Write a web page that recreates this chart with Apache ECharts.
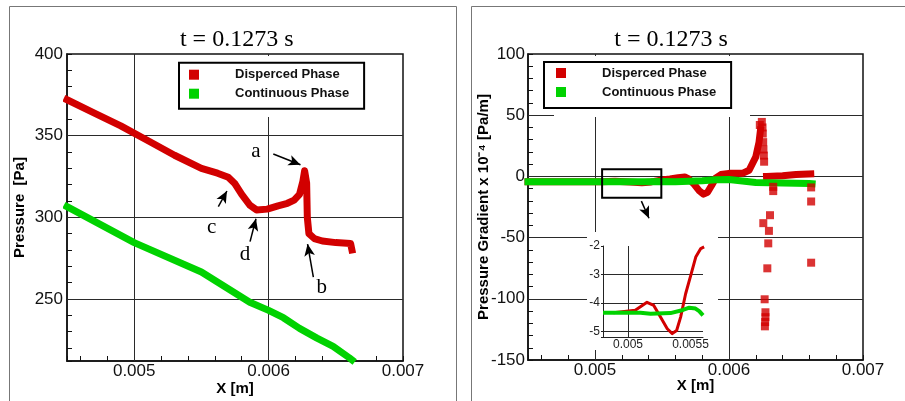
<!DOCTYPE html>
<html>
<head>
<meta charset="utf-8">
<title>Pressure and pressure gradient, t = 0.1273 s</title>
<script src="https://cdn.jsdelivr.net/npm/echarts@6/dist/echarts.min.js"></script>
<style>
  html, body { margin: 0; padding: 0; background: #fff; }
  #chart { width: 905px; height: 401px; }
</style>
</head>
<body>
<div id="chart"></div>
<script>
// ---- data -----------------------------------------------------------------
const timeLabel = 't = 0.1273 s';
const phaseNames = ['Disperced Phase', 'Continuous Phase'];
const phaseColors = ['#d20000', '#00d200'];

// Pressure [Pa] along X [m]
const pressureDispersed = [
  [0.0045, 372], [0.0047, 364], [0.0049, 356], [0.0051, 347], [0.0053, 338],
  [0.0055, 330], [0.00562, 327], [0.0057, 324.5], [0.00575, 320.5], [0.0058, 314],
  [0.00586, 307.5], [0.00591, 304.5], [0.00599, 305], [0.00607, 307], [0.00614, 308.6],
  [0.00619, 310.5], [0.00623, 314], [0.006255, 322], [0.006268, 328.5], [0.006283, 321],
  [0.006288, 300], [0.0063, 290], [0.00634, 287], [0.0064, 285.5], [0.0065, 284.5],
  [0.00661, 284], [0.00662, 280]
];
const pressureContinuous = [
  [0.0045, 306.5], [0.005, 284.5], [0.0055, 266.5], [0.00586, 248], [0.006, 243],
  [0.00611, 238.5], [0.00623, 232], [0.00636, 226], [0.00648, 221], [0.0066, 214],
  [0.00662, 212.7]
];

// Pressure gradient x 10^-4 [Pa/m] along X [m]
const gradDispersedBody = [
  [0.0045, -4.3], [0.00505, -4.3], [0.00515, -4.0], [0.00526, -4.5], [0.00535, -5.1],
  [0.00542, -4.5], [0.0055, -3], [0.00556, -2.1], [0.00562, -1], [0.00567, -0.5],
  [0.0057, -2], [0.00574, -6.5], [0.00578, -12], [0.00581, -14.5], [0.00584, -13],
  [0.00587, -7.5], [0.0059, -1.5], [0.00594, 1.5], [0.006, 2.5], [0.0061, 2.5],
  [0.00615, 5], [0.0062, 16], [0.006224, 28], [0.006235, 38]
];
const gradDispersedTail = [
  [0.00628, 0], [0.0064, 0.5], [0.0065, 1.5], [0.00661, 2]
];
const gradDispersedPoints = [
  [0.00623, 42], [0.006245, 44.5], [0.00625, 40], [0.006252, 35], [0.006255, 28],
  [0.006257, 22], [0.00626, 17], [0.006262, 12],
  [0.006256, -38.2], [0.006306, -31.7], [0.006298, -44.5], [0.006293, -54.7],
  [0.006286, -75.1], [0.006266, -100.4], [0.006272, -111], [0.006272, -115],
  [0.00627, -119], [0.006268, -122.5], [0.00633, -8.5], [0.00633, -12],
  [0.006613, -9], [0.006613, -20.5], [0.006613, -70.5]
];
const gradContinuous = [
  [0.0045, -4.3], [0.005, -4.3], [0.0054, -4.3], [0.0055, -4.2], [0.0056, -4.4],
  [0.0058, -3.5], [0.0059, -2.8], [0.006, -2.6], [0.0061, -3.8], [0.0062, -5],
  [0.0064, -5.3], [0.0066, -5.8], [0.00662, -6]
];

// Magnified window, 0.0048 - 0.0056 m
const zoomDispersed = [
  [0.004883, -4.35], [0.005058, -4.26], [0.005152, -3.98], [0.005206, -4.09],
  [0.00526, -4.5], [0.005314, -4.91], [0.005354, -5.08], [0.005389, -4.97],
  [0.005421, -4.5], [0.005461, -3.68], [0.005502, -3.03], [0.005542, -2.39],
  [0.005582, -2.09], [0.005609, -2.03]
];
const zoomContinuous = [
  [0.0048, -4.35], [0.0051, -4.35], [0.00518, -4.38], [0.00534, -4.36],
  [0.00544, -4.25], [0.00549, -4.17], [0.00554, -4.2], [0.00557, -4.29], [0.0056, -4.44]
];
const zoomWindow = [[0.005053, 5.8], [0.005495, -17.5]];

// Axis labels
const xLabelValues = [0.005, 0.006, 0.007];
const pressureLabelValues = [250, 300, 350, 400];
const gradLabelValues = [-150, -100, -50, 0, 50, 100];
const zoomXLabelValues = [0.005, 0.0055];
const zoomYLabelValues = [-5, -4, -3, -2];

// Letters marking points on the dispersed-phase pressure curve
const pressureNotes = [
  { letter: 'a', at: [0.005906, 340.5], from: [0.006035, 338.8], to: [0.006237, 332.2] },
  { letter: 'b', at: [0.006395, 257.0], from: [0.006333, 263.3], to: [0.006290, 283.6] },
  { letter: 'c', at: [0.005577, 293.5], from: [0.005626, 306.5], to: [0.005690, 316.1] },
  { letter: 'd', at: [0.005824, 277.5], from: [0.005862, 285.1], to: [0.005906, 299.1] }
];
const zoomArrow = { from: [0.005346, -20.2], to: [0.005403, -34.2] };

// ---- chart ----------------------------------------------------------------
const SANS = 'Liberation Sans, Arial, sans-serif';
const SERIF = 'Liberation Serif, Times New Roman, serif';

const axisNameStyle = { fontFamily: SANS, fontWeight: 'bold', fontSize: 15, color: '#000' };
const tickStyle = { show: true, inside: true, length: 5, lineStyle: { color: '#111', width: 1 } };

function mainX(gridIndex, nameGap) {
  return {
    type: 'value', gridIndex, min: 0.0045, max: 0.007,
    splitNumber: 13, minInterval: 0.0002, maxInterval: 0.0002,
    name: 'X [m]', nameLocation: 'middle', nameGap, nameMoveOverlap: false,
    nameTextStyle: axisNameStyle,
    axisLine: { show: true, onZero: false, lineStyle: { color: '#111', width: 1.5 } },
    axisTick: tickStyle,
    axisLabel: { show: true, customValues: xLabelValues, formatter: v => v.toFixed(3),
      fontFamily: SANS, fontSize: 17, color: '#111', margin: 2 },
    splitLine: { show: false }
  };
}

function mainY(gridIndex, min, max, name, labels, nameGap, margin) {
  return {
    type: 'value', gridIndex, min, max,
    splitNumber: Math.round((max - min) / 10), minInterval: 10, maxInterval: 10,
    name, nameLocation: 'middle', nameGap, nameMoveOverlap: false,
    nameTextStyle: axisNameStyle,
    axisLine: { show: true, onZero: false, lineStyle: { color: '#111', width: 1.5 } },
    axisTick: tickStyle,
    axisLabel: { show: true, customValues: labels, fontFamily: SANS, fontSize: 17,
      color: '#111', margin },
    splitLine: { show: false }
  };
}

function curve(name, data, color, width, axis, z) {
  return {
    type: 'line', name, data, xAxisIndex: axis, yAxisIndex: axis, z: z || 2,
    symbol: 'none', showSymbol: false, clip: false, silent: true,
    itemStyle: { color }, lineStyle: { color, width, cap: 'square', join: 'round' },
    emphasis: { disabled: true }
  };
}

// reference lines drawn in data coordinates across a panel
function gridLines(axis, xRange, yRange, xs, ys, z) {
  const vertical = xs.map(v => [{ coord: [v, yRange[0]] }, { coord: [v, yRange[1]] }]);
  const horizontal = ys.map(v => [{ coord: [xRange[0], v] }, { coord: [xRange[1], v] }]);
  return {
    type: 'line', data: [], xAxisIndex: axis, yAxisIndex: axis, silent: true,
    markLine: {
      z, silent: true, symbol: ['none', 'none'], label: { show: false },
      lineStyle: { color: '#2a2a2a', width: 1, type: 'solid' },
      emphasis: { disabled: true },
      data: vertical.concat(horizontal)
    }
  };
}

const arrowStyle = { color: '#000', width: 1.5, type: 'solid' };
const titleStyle = { fontFamily: SERIF, fontWeight: 'normal', fontSize: 24, color: '#000' };

const option = {
  animation: false,
  title: [
    { text: timeLabel, left: 236.7, top: 28, textAlign: 'center', padding: 0, textStyle: titleStyle },
    { text: timeLabel, left: 671, top: 28, textAlign: 'center', padding: 0, textStyle: titleStyle }
  ],
  legend: [
    { data: phaseNames, left: 179, top: 62.7, padding: [5, 15, 8, 10] },
    { data: phaseNames, left: 544, top: 62, padding: [4, 15, 9, 12] }
  ].map(l => Object.assign({
    orient: 'vertical', icon: 'rect', itemWidth: 10, itemHeight: 10, itemGap: 5,
    selectedMode: false, borderColor: '#000', borderWidth: 2, backgroundColor: '#fff',
    textStyle: { fontFamily: SANS, fontWeight: 'bold', fontSize: 13, color: '#111',
      lineHeight: 14, padding: [0, 0, 0, 31] }
  }, l)),
  grid: [
    { left: 67, top: 54, width: 336, height: 307, show: true, borderColor: '#111',
      borderWidth: 1.5, outerBoundsMode: 'none', containLabel: false },
    { left: 528, top: 54, width: 335, height: 306, show: true, borderColor: '#111',
      borderWidth: 1.5, outerBoundsMode: 'none', containLabel: false },
    { left: 603, top: 246, width: 100, height: 91, show: false,
      outerBoundsMode: 'none', containLabel: false }
  ],
  xAxis: [
    mainX(0, 20),
    mainX(1, 18.5),
    { type: 'value', gridIndex: 2, min: 0.0048, max: 0.0056, z: 5,
      axisLine: { show: true, onZero: false, lineStyle: { color: '#222', width: 1 } },
      axisTick: { show: false },
      axisLabel: { show: true, customValues: zoomXLabelValues, formatter: v => String(v),
        fontFamily: SANS, fontSize: 12, color: '#222', margin: 2 },
      splitLine: { show: false } }
  ],
  yAxis: [
    mainY(0, 212, 400, 'Pressure  [Pa]', pressureLabelValues, 40, 4),
    mainY(1, -150, 100, 'Pressure Gradient x 10\u207B\u2074 [Pa/m]', gradLabelValues, 37, 3),
    { type: 'value', gridIndex: 2, min: -5.2, max: -2, z: 5,
      splitNumber: 3, minInterval: 1, maxInterval: 1,
      axisLine: { show: true, onZero: false, lineStyle: { color: '#222', width: 1 } },
      axisTick: { show: true, length: 2, lineStyle: { color: '#222' } },
      axisLabel: { show: true, customValues: zoomYLabelValues, fontFamily: SANS, fontSize: 12,
        color: '#222', margin: 3 },
      splitLine: { show: false } }
  ],
  graphic: { elements: [
    // panel frames
    { type: 'rect', shape: { x: 9.5, y: 6.5, width: 447, height: 500 }, silent: true, z: 0,
      style: { fill: 'none', stroke: '#777', lineWidth: 1 } },
    { type: 'rect', shape: { x: 471.5, y: 6.5, width: 600, height: 500 }, silent: true, z: 0,
      style: { fill: 'none', stroke: '#777', lineWidth: 1 } },
    // blank areas behind the legends and the magnified window
    { type: 'rect', shape: { x: 170, y: 56, width: 202, height: 61 }, silent: true, z: 3,
      style: { fill: '#fff' } },
    { type: 'rect', shape: { x: 554, y: 56, width: 196, height: 61 }, silent: true, z: 3,
      style: { fill: '#fff' } },
    { type: 'rect', shape: { x: 587, y: 232, width: 131, height: 118 }, silent: true, z: 3,
      style: { fill: '#fff' } }
  ] },
  series: [
    // left panel: pressure
    gridLines(0, [0.0045, 0.007], [212, 400], [0.005, 0.006], [250, 300, 350], 1),
    curve(phaseNames[0], pressureDispersed, phaseColors[0], 7, 0),
    curve(phaseNames[1], pressureContinuous, phaseColors[1], 7, 0),
    {
      type: 'line', data: [], xAxisIndex: 0, yAxisIndex: 0, silent: true,
      markLine: {
        z: 6, silent: true, symbol: ['none', 'arrow'], symbolSize: [8, 12],
        label: { show: false }, lineStyle: arrowStyle, emphasis: { disabled: true },
        data: pressureNotes.map(n => [{ coord: n.from }, { coord: n.to }])
      },
      markPoint: {
        z: 6, silent: true, symbol: 'circle', symbolSize: 1,
        itemStyle: { color: 'rgba(0,0,0,0)' },
        label: { show: true, position: 'inside', formatter: '{b}', fontFamily: SERIF,
          fontSize: 21, color: '#000' },
        data: pressureNotes.map(n => ({ name: n.letter, coord: n.at }))
      }
    },

    // right panel: pressure gradient
    gridLines(1, [0.0045, 0.007], [-150, 100], [0.005, 0.006], [50, 0, -50, -100], 1),
    curve(phaseNames[0], gradDispersedBody, phaseColors[0], 7, 1),
    curve(phaseNames[0], gradDispersedTail, phaseColors[0], 7, 1),
    {
      type: 'scatter', name: phaseNames[0], data: gradDispersedPoints,
      xAxisIndex: 1, yAxisIndex: 1, symbol: 'rect', symbolSize: 8, silent: true,
      itemStyle: { color: phaseColors[0] }, emphasis: { disabled: true }
    },
    curve(phaseNames[1], gradContinuous, phaseColors[1], 7, 1),
    {
      type: 'line', data: [], xAxisIndex: 1, yAxisIndex: 1, silent: true,
      markLine: {
        z: 6, silent: true, symbol: ['none', 'arrow'], symbolSize: [8, 12],
        label: { show: false }, lineStyle: arrowStyle, emphasis: { disabled: true },
        data: [[{ coord: zoomArrow.from }, { coord: zoomArrow.to }]]
      },
      markArea: {
        z: 6, silent: true, label: { show: false },
        itemStyle: { color: 'rgba(0,0,0,0)', borderColor: '#000', borderWidth: 2 },
        emphasis: { disabled: true },
        data: [[{ coord: zoomWindow[0] }, { coord: zoomWindow[1] }]]
      }
    },

    // magnified window
    gridLines(2, [0.0048, 0.0056], [-5.2, -2], [0.005], [-3, -4, -5], 4),
    Object.assign(curve(phaseNames[0], zoomDispersed, phaseColors[0], 3, 2, 5),
      { clip: true, lineStyle: { color: phaseColors[0], width: 3, cap: 'butt', join: 'round' } }),
    Object.assign(curve(phaseNames[1], zoomContinuous, phaseColors[1], 4, 2, 5),
      { clip: true, lineStyle: { color: phaseColors[1], width: 4, cap: 'butt', join: 'round' } })
  ]
};

const chart = echarts.init(document.getElementById('chart'), null, { renderer: 'canvas' });
chart.setOption(option);
</script>
</body>
</html>
